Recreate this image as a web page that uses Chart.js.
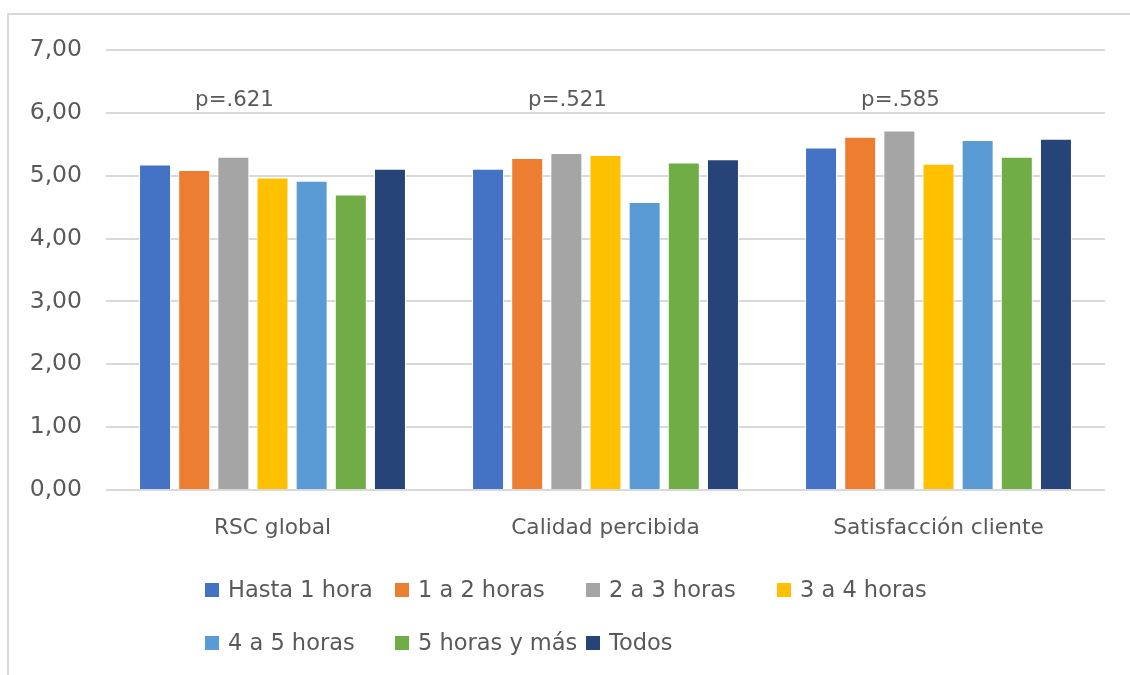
<!DOCTYPE html>
<html>
<head>
<meta charset="utf-8">
<script src="https://cdn.jsdelivr.net/npm/chart.js@4/dist/chart.umd.min.js"></script>
<style>
  html, body { margin: 0; padding: 0; background: #fff; overflow: hidden; }
  #wrap { position: relative; width: 1130px; height: 675px; overflow: hidden; }
  #c { display: block; }
</style>
</head>
<body>
<div id="wrap"><canvas id="c" width="1130" height="675"></canvas></div>
<script>
// Group labels on the category axis
const categories = ['RSC global', 'Calidad percibida', 'Satisfacción cliente'];

// Daily-time groups (series)
const seriesLabels = ['Hasta 1 hora', '1 a 2 horas', '2 a 3 horas', '3 a 4 horas', '4 a 5 horas', '5 horas y más', 'Todos'];

// Mean score of each group, in category order
const hasta1 = [5.18, 5.11, 5.45];
const de1a2 = [5.09, 5.28, 5.62];
const de2a3 = [5.30, 5.36, 5.72];
const de3a4 = [4.97, 5.33, 5.19];
const de4a5 = [4.92, 4.58, 5.57];
const de5mas = [4.70, 5.21, 5.30];
const todos = [5.11, 5.26, 5.59];

// Significance of each comparison
const pValues = ['p=.621', 'p=.521', 'p=.585'];

// Value axis ticks
const yTicks = [0, 1, 2, 3, 4, 5, 6, 7];

const seriesValues = [hasta1, de1a2, de2a3, de3a4, de4a5, de5mas, todos];
const seriesColors = ['#4472C4', '#ED7D31', '#A5A5A5', '#FFC000', '#5B9BD5', '#70AD47', '#264478'];

const FONT = '"DejaVu Sans", sans-serif';
const TEXT = '#595959';

// Outer frame of the chart: left edge and top edge only
const framePlugin = {
  id: 'frame',
  beforeDraw(chart) {
    const ctx = chart.ctx;
    ctx.save();
    ctx.fillStyle = '#fff';
    ctx.fillRect(0, 0, chart.width, chart.height);
    ctx.fillStyle = '#d9d9d9';
    ctx.fillRect(7, 13, 2, chart.height - 13);
    ctx.fillRect(7, 13, chart.width - 7, 2);
    ctx.restore();
  }
};

// p-value note above each group
const pLabelPlugin = {
  id: 'pLabels',
  afterDatasetsDraw(chart) {
    const ctx = chart.ctx;
    const x = chart.scales.x;
    ctx.save();
    ctx.font = '21.3px ' + FONT;
    ctx.fillStyle = TEXT;
    ctx.textAlign = 'center';
    ctx.textBaseline = 'alphabetic';
    pValues.forEach((p, i) => {
      ctx.fillText(p, x.getPixelForValue(i) - 38, 106);
    });
    ctx.restore();
  }
};

// Legend laid out as a grid of four columns
const gridLegendPlugin = {
  id: 'gridLegend',
  afterDraw(chart) {
    const ctx = chart.ctx;
    const cols = [205, 395, 586, 777];
    const rows = [590, 643];
    ctx.save();
    ctx.font = '22.5px ' + FONT;
    ctx.textBaseline = 'middle';
    ctx.textAlign = 'left';
    chart.data.datasets.forEach((ds, i) => {
      const cx = cols[i % 4];
      const cy = rows[Math.floor(i / 4)];
      ctx.fillStyle = ds.backgroundColor;
      ctx.fillRect(cx, cy - 7, 14, 14);
      ctx.fillStyle = TEXT;
      ctx.fillText(ds.label, cx + 23, cy + 1);
    });
    ctx.restore();
  }
};

const datasets = seriesLabels.map((label, i) => ({
  label,
  data: seriesValues[i],
  backgroundColor: seriesColors[i],
  borderColor: '#ffffff',
  borderWidth: 1,
  categoryPercentage: 0.823,
  barPercentage: 0.817
}));

new Chart(document.getElementById('c'), {
  type: 'bar',
  data: { labels: categories, datasets },
  options: {
    responsive: false,
    animation: false,
    devicePixelRatio: 1,
    layout: { padding: { left: 0, top: 50, right: 25, bottom: 126 } },
    plugins: {
      legend: { display: false },
      tooltip: { enabled: false }
    },
    scales: {
      x: {
        grid: { display: false, drawTicks: false },
        border: { display: false },
        ticks: { color: TEXT, font: { family: FONT, size: 21.7 }, padding: 25 },
        afterFit(scale) { scale.height = 59; }
      },
      y: {
        min: 0,
        max: 7,
        afterBuildTicks(scale) { scale.ticks = yTicks.map(v => ({ value: v })); },
        grid: { color: '#d9d9d9', lineWidth: 2, drawTicks: false },
        border: { display: false },
        ticks: {
          color: TEXT,
          font: { family: FONT, size: 23.5 },
          padding: 24,
          callback: v => Number(v).toFixed(2).replace('.', ',')
        },
        afterFit(scale) { scale.width = 106; }
      }
    }
  },
  plugins: [framePlugin, pLabelPlugin, gridLegendPlugin]
});
</script>
</body>
</html>
